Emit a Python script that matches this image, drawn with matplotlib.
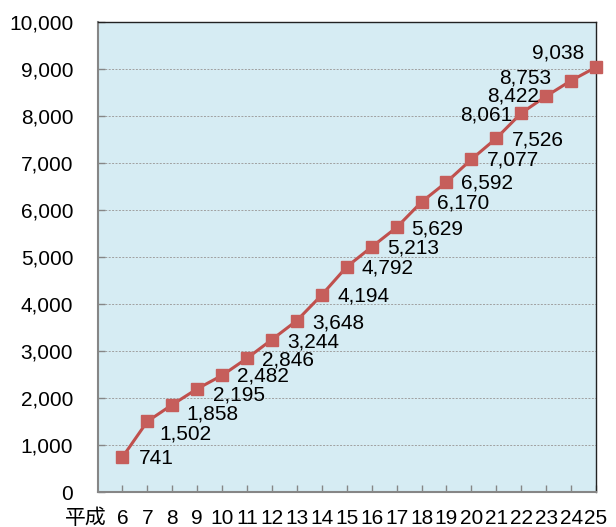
import matplotlib as mpl
import matplotlib.pyplot as plt
from matplotlib.ticker import FuncFormatter

mpl.rcParams.update({
    "font.family": ["Liberation Sans", "Noto Sans CJK JP", "DejaVu Sans"],
    "font.size": 15,
})

# data
years = [6, 7, 8, 9, 10, 11, 12, 13, 14, 15, 16, 17, 18, 19, 20, 21, 22, 23, 24, 25]
values = [741, 1502, 1858, 2195, 2482, 2846, 3244, 3648, 4194, 4792,
          5213, 5629, 6170, 6592, 7077, 7526, 8061, 8422, 8753, 9038]
era_label = "平成"

# label placement in pixels (dx, dy down-positive, ha)
label_offsets = [
    (16, 1, "left"), (12, 13, "left"), (14, 9, "left"), (16, 6, "left"),
    (15, 1, "left"), (15, 2, "left"), (15, 2, "left"), (15, 2, "left"),
    (16, 1, "left"), (15, 1, "left"), (15, 1, "left"), (15, 2, "left"),
    (15, 1, "left"), (15, 1, "left"), (16, 1, "left"), (16, 2, "left"),
    (-9, 2, "right"), (-7, 0, "right"), (-20, -3, "right"), (-12, -14, "right"),
]

BG = "#D6ECF3"
LINE = "#C0504D"
MARK = "#C65E5B"
AXIS = "#868686"

fig = plt.figure(figsize=(6.16, 5.27), dpi=100)
ax = fig.add_axes([97.5 / 616, 35 / 527, (596 - 97.5) / 616, 470 / 527])
ax.set_facecolor(BG)

ax.plot(years, values, color=LINE, linewidth=2.2, marker="s", markersize=8.5,
        markerfacecolor=MARK, markeredgecolor=MARK, zorder=3, clip_on=False)

px = 0.72
for x, v, (dx, dy, ha) in zip(years, values, label_offsets):
    ax.annotate(f"{v:,}", (x, v), xytext=(dx * px, -dy * px), textcoords="offset points",
                ha=ha, va="center", fontsize=15, color="black", zorder=4)

ax.set_xlim(5, 25)
ax.set_ylim(0, 10000)
ax.set_xticks(years)
ax.set_xticklabels([str(y) for y in years])
ax.set_yticks(range(0, 10001, 1000))
ax.yaxis.set_major_formatter(FuncFormatter(lambda v, p: f"{int(v):,}"))

ax.grid(axis="y", color="#A0A0A0", linestyle=(0, (2, 1.5)), linewidth=0.7)
ax.set_axisbelow(True)

ax.tick_params(axis="x", direction="in", length=5, width=1, color=AXIS, pad=12, labelsize=15)
ax.tick_params(axis="y", direction="in", length=5, width=1, color=AXIS, pad=17.5, labelsize=15)

ax.spines["left"].set_color(AXIS)
ax.spines["left"].set_linewidth(1.5)
ax.spines["bottom"].set_color(AXIS)
ax.spines["bottom"].set_linewidth(1.5)
ax.spines["top"].set_color("#222222")
ax.spines["top"].set_linewidth(1.0)
ax.spines["right"].set_color("#222222")
ax.spines["right"].set_linewidth(1.0)

fig.text(107 / 616, 1 - 518 / 527, era_label, ha="right", va="center", fontsize=15)

fig.savefig("out.png", dpi=100)
